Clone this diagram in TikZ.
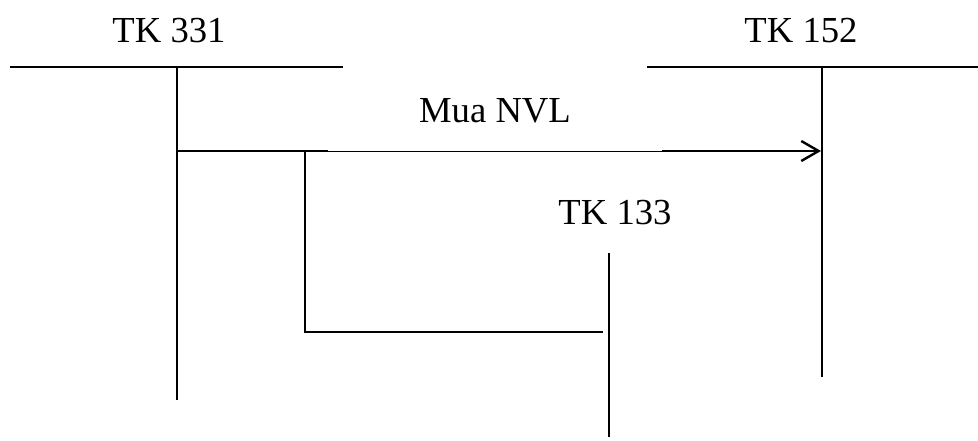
\documentclass[tikz,border=0pt]{standalone}
\usepackage{fontspec}
\setmainfont{Liberation Serif}
\usetikzlibrary{arrows.meta, positioning, calc}
\definecolor{ink}{HTML}{000000}
\tikzset{
  lbl/.style={font=\fontsize{27.5}{33}\selectfont, text=ink, inner sep=0pt, anchor=base},
  tline/.style={draw=ink, line width=1.4pt},
  vline/.style={draw=ink, line width=1pt},
  fl/.style={-{Straight Barb[length=13pt, width=15pt, line width=1.8pt]}, line width=1.4pt, draw=ink},
  thin/.style={draw=ink, line width=0.7pt},
}
\begin{document}
\begin{tikzpicture}[x=0.75pt, y=-0.75pt]
  \useasboundingbox (0,0) rectangle (978,441);
  % account headings
  \node[lbl] (tk331) at (169,43) {TK 331};
  \node[lbl] (tk152) at (801,43) {TK 152};
  \node[lbl] (tk133) at (615,225) {TK 133};
  \node[lbl] (mua) at (495,123) {Mua NVL};
  % T-account lines
  \coordinate (l331) at (10,67);  \coordinate (r331) at (343,67);
  \coordinate (l152) at (647,67); \coordinate (r152) at (978,67);
  \coordinate (t331) at (177,67); \coordinate (b331) at (177,400);
  \coordinate (t152) at (822,67); \coordinate (b152) at (822,377);
  \coordinate (t133) at (609,253); \coordinate (b133) at (609,437);
  \draw[tline] (l331) -- (r331);
  \draw[tline] (l152) -- (r152);
  \draw[vline] (t331) -- (b331);
  \draw[vline] (t152) -- (b152);
  \draw[vline] (t133) -- (b133);
  % entries
  \coordinate (s1) at (177,151);
  \coordinate (e1) at (821,151);
  \coordinate (k1) at (305,151);
  \coordinate (m1) at (328,151);
  \coordinate (m2) at (662,151);
  \draw[thin] (m1) -- (m2);
  \draw[tline] (s1) -- (m1);
  \draw[fl] (m2) -- (e1);
  \draw[tline] (k1) |- ($(t133)+(-6,79)$);
\end{tikzpicture}
\end{document}
